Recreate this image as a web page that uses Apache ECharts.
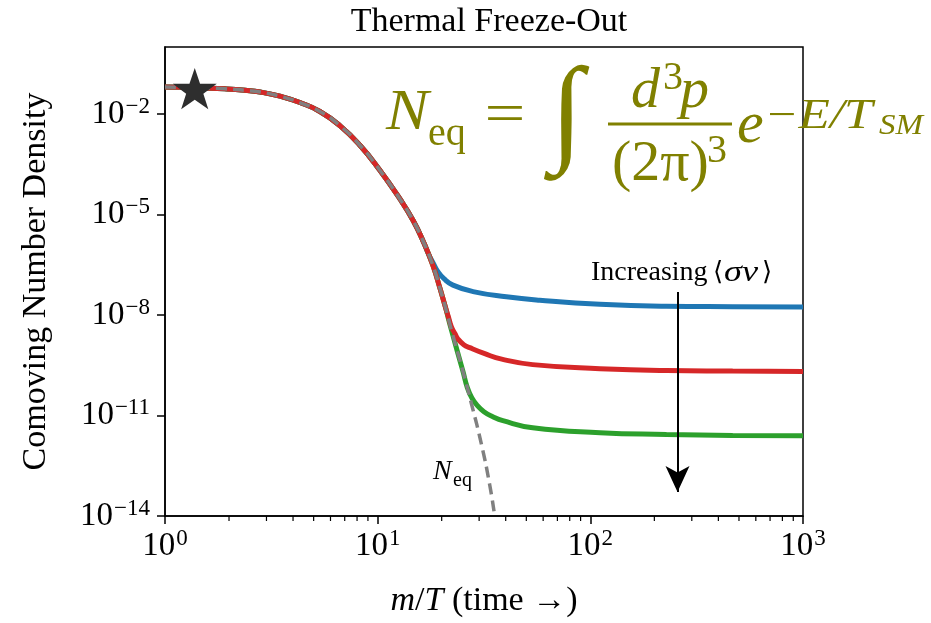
<!DOCTYPE html>
<html>
<head>
<meta charset="utf-8">
<script src="https://cdn.jsdelivr.net/npm/echarts@6/dist/echarts.min.js"></script>
<style>
  html, body { margin: 0; padding: 0; background: #fff; }
  #chart { width: 931px; height: 623px; }
</style>
</head>
<body>
<div id="chart"></div>
<script>
// values (m/T on x, comoving number density on y)
const eqX = [1.00, 1.24, 1.54, 1.91, 2.38, 2.80, 3.47, 4.31, 5.35, 6.64, 8.25, 10.2, 12.7, 14.7, 16.4, 18.2, 19.6, 20.7, 22.2, 25.2, 27.6, 30.8, 33.7, 35.5]
const eqY = [6.4e-2, 6.26e-2, 6.0e-2, 5.65e-2, 5.1e-2, 4.54e-2, 3.4e-2, 2.2e-2, 1.19e-2, 4.5e-3, 1.17e-3, 2.17e-4, 2.96e-5, 6.5e-6, 1.54e-6, 2.96e-7, 6.5e-8, 1.96e-8, 3.64e-9, 2.03e-10, 2.25e-11, 1.34e-12, 8.0e-14, 1.0e-14]

const blueX = [1.00, 1.24, 1.54, 1.91, 2.38, 2.80, 3.47, 4.31, 5.35, 6.64, 8.25, 10.2, 12.7, 14.7, 16.4, 17.35, 18.2, 19.2, 20.5, 22.6, 28.1, 40.3, 57.8, 111, 228, 467, 1000]
const blueY = [6.4e-2, 6.26e-2, 6.0e-2, 5.65e-2, 5.1e-2, 4.54e-2, 3.4e-2, 2.2e-2, 1.19e-2, 4.5e-3, 1.17e-3, 2.17e-4, 2.96e-5, 6.5e-6, 1.54e-6, 6.5e-7, 3.64e-7, 1.96e-7, 1.21e-7, 7.8e-8, 5.0e-8, 3.5e-8, 2.77e-8, 2.1e-8, 1.83e-8, 1.77e-8, 1.73e-8]

const redX = [1.00, 1.24, 1.54, 1.91, 2.38, 2.80, 3.47, 4.31, 5.35, 6.64, 8.25, 10.2, 12.7, 14.7, 16.4, 18.2, 19.6, 20.7, 21.5, 22.2, 23.1, 23.8, 25.4, 27.1, 31.9, 38.3, 53.6, 111, 228, 467, 1000]
const redY = [6.4e-2, 6.26e-2, 6.0e-2, 5.65e-2, 5.1e-2, 4.54e-2, 3.4e-2, 2.2e-2, 1.19e-2, 4.5e-3, 1.17e-3, 2.17e-4, 2.96e-5, 6.5e-6, 1.54e-6, 2.96e-7, 6.5e-8, 1.96e-8, 8.9e-9, 4.48e-9, 2.77e-9, 1.96e-9, 1.3e-9, 1.06e-9, 7.0e-10, 4.8e-10, 3.3e-10, 2.5e-10, 2.2e-10, 2.13e-10, 2.07e-10]

const greenX = [1.00, 1.24, 1.54, 1.91, 2.38, 2.80, 3.47, 4.31, 5.35, 6.64, 8.25, 10.2, 12.7, 14.7, 16.4, 18.2, 19.6, 20.7, 22.2, 25.2, 26.4, 27.7, 29.3, 31.6, 34.8, 38.8, 53.6, 111, 228, 467, 1000]
const greenY = [6.4e-2, 6.26e-2, 6.0e-2, 5.65e-2, 5.1e-2, 4.54e-2, 3.4e-2, 2.2e-2, 1.19e-2, 4.5e-3, 1.17e-3, 2.17e-4, 2.96e-5, 6.5e-6, 1.54e-6, 2.96e-7, 6.5e-8, 1.96e-8, 3.64e-9, 2.03e-10, 6.8e-11, 3.4e-11, 2.03e-11, 1.3e-11, 9.2e-12, 7.0e-12, 4.3e-12, 3.07e-12, 2.73e-12, 2.55e-12, 2.49e-12]

const starX = [1.38]
const starY = [5.7e-2]

// "Increasing <sigma v>" arrow, start and tip
const arrowX = [257, 257]
const arrowY = [4.9e-8, 5.2e-14]

const xMin = 1
const xMax = 1000
const yMin = 1e-14
const yMax = 1
const yTickExps = [-14, -11, -8, -5, -2]
const xMinorTicks = [2, 3, 4, 5, 6, 7, 8, 9, 20, 30, 40, 50, 60, 70, 80, 90, 200, 300, 400, 500, 600, 700, 800, 900]

const SERIF = "'Liberation Serif', 'DejaVu Serif', serif"
const OLIVE = '#808000'

function zip(xs, ys) {
  return xs.map(function (x, i) {
    return [x, ys[i]]
  })
}

function powLabel(v) {
  const e = Math.round(Math.log10(v))
  return '{b|10}{s|' + String(e).replace('-', '\u2212') + '}'
}

const tickRich = {
  b: { fontFamily: SERIF, fontSize: 33, color: '#000' },
  s: { fontFamily: SERIF, fontSize: 23, color: '#000', padding: [0, 0, 15, 1] },
}

function curve(xs, ys, color, z) {
  return {
    type: 'line',
    data: zip(xs, ys),
    smooth: 0.5,
    showSymbol: false,
    lineStyle: { color: color, width: 5 },
    silent: true,
    z: z,
  }
}

function txt(x, y, text, font, extra) {
  const el = {
    type: 'text',
    x: x,
    y: y,
    style: { text: text, font: font, fill: OLIVE, verticalAlign: 'middle' },
  }
  return Object.assign(el, extra || {})
}

const chart = echarts.init(document.getElementById('chart'))

const option = {
  animation: false,
  backgroundColor: '#fff',
  title: {
    text: 'Thermal Freeze-Out',
    left: 484,
    textAlign: 'center',
    top: 0,
    textStyle: { fontFamily: SERIF, fontWeight: 'normal', fontSize: 34, color: '#000' },
  },
  grid: {
    left: 165,
    right: 128,
    top: 47,
    bottom: 106,
    show: true,
    borderColor: '#000',
    borderWidth: 1.5,
  },
  xAxis: {
    type: 'log',
    logBase: 10,
    min: xMin,
    max: xMax,
    name: '{i|m}/{i|T} (time \u2192)',
    nameLocation: 'middle',
    nameGap: 68,
    nameTextStyle: {
      fontFamily: SERIF,
      fontSize: 34,
      color: '#000',
      rich: {
        i: { fontFamily: SERIF, fontSize: 34, fontStyle: 'italic', color: '#000' },
      },
    },
    axisLine: { lineStyle: { color: '#000', width: 1.5 } },
    axisTick: { inside: false, length: 8, lineStyle: { color: '#000', width: 1.5 } },
    splitLine: { show: false },
    axisLabel: {
      margin: 11,
      formatter: powLabel,
      rich: tickRich,
    },
  },
  yAxis: {
    type: 'log',
    logBase: 10,
    min: yMin,
    max: yMax,
    interval: 3,
    name: 'Comoving Number Density',
    nameLocation: 'middle',
    nameGap: 112,
    nameTextStyle: { fontFamily: SERIF, fontSize: 34, color: '#000' },
    axisLine: { lineStyle: { color: '#000', width: 1.5 } },
    axisTick: { inside: false, length: 8, lineStyle: { color: '#000', width: 1.5 } },
    splitLine: { show: false },
    axisLabel: {
      margin: 15,
      showMaxLabel: false,
      formatter: function (v) {
        const e = Math.round(Math.log10(v))
        return yTickExps.indexOf(e) >= 0 ? powLabel(v) : ''
      },
      rich: tickRich,
    },
  },
  series: [
    curve(blueX, blueY, '#1f77b4', 2),
    curve(greenX, greenY, '#2ca02c', 2),
    curve(redX, redY, '#d62728', 3),
    {
      type: 'line',
      data: zip(eqX, eqY),
      smooth: 0.5,
      showSymbol: false,
      lineStyle: { color: '#808080', width: 3.5, type: [11, 6] },
      silent: true,
      z: 4,
      markLine: {
        silent: true,
        symbol: ['none', 'arrow'],
        symbolSize: [18, 26],
        label: { show: false },
        lineStyle: { color: '#000', width: 2, type: 'solid' },
        data: [[{ coord: [arrowX[0], arrowY[0]] }, { coord: [arrowX[1], arrowY[1]] }]],
      },
    },
    {
      type: 'scatter',
      data: zip(starX, starY),
      symbol: 'path://M50,0 L61.8,35.1 L98.9,35.1 L69.1,57.1 L80.2,91.9 L50,70.5 L19.8,91.9 L30.9,57.1 L1.1,35.1 L38.2,35.1 Z',
      symbolKeepAspect: true,
      symbolSize: 44,
      itemStyle: { color: '#2e2e2e', opacity: 1 },
      silent: true,
      z: 5,
    },
    {
      // minor ticks of the log x axis
      type: 'custom',
      data: xMinorTicks.map(function (v) { return [v, yMin] }),
      clip: false,
      silent: true,
      renderItem: function (params, api) {
        const p = api.coord([api.value(0), api.value(1)])
        return {
          type: 'line',
          shape: { x1: p[0], y1: p[1], x2: p[0], y2: p[1] + 5 },
          style: { stroke: '#000', lineWidth: 1.2 },
        }
      },
    },
  ],
  graphic: [
    // N_eq formula
    txt(386, 114, 'N', 'italic 58px ' + SERIF, { scaleX: 1.1 }),
    txt(428, 134, 'eq', '40px ' + SERIF),
    txt(505, 117, '=', '58px ' + SERIF, { scaleX: 1.25, style: { text: '=', font: '58px ' + SERIF, fill: OLIVE, align: 'center', verticalAlign: 'middle' } }),
    txt(567, 118, '\u222B', '100px ' + SERIF, { scaleX: 1.2, scaleY: 1.18, style: { text: '\u222B', font: '100px ' + SERIF, fill: OLIVE, align: 'center', verticalAlign: 'middle' } }),
    txt(631, 92, 'd', 'italic 58px ' + SERIF),
    txt(663, 78, '3', '40px ' + SERIF),
    txt(680, 92, 'p', 'italic 58px ' + SERIF),
    { type: 'line', shape: { x1: 608, y1: 124, x2: 732, y2: 124 }, style: { stroke: OLIVE, lineWidth: 3 } },
    txt(612, 165, '(2\u03C0)', '58px ' + SERIF),
    txt(707, 151, '3', '40px ' + SERIF),
    txt(737, 126, 'e', 'italic 60px ' + SERIF),
    txt(764, 117, '\u2212E/T', 'italic 42px ' + SERIF, { scaleX: 1.22 }),
    txt(879, 126, 'SM', 'italic 30px ' + SERIF, { scaleX: 1.1 }),
    // label of the dashed equilibrium curve
    { type: 'text', x: 433, y: 472, style: { text: 'N', font: 'italic 28px ' + SERIF, fill: '#000', verticalAlign: 'middle' } },
    { type: 'text', x: 453, y: 481, style: { text: 'eq', font: '20px ' + SERIF, fill: '#000', verticalAlign: 'middle' } },
    // arrow caption
    { type: 'text', x: 591, y: 273, style: { text: 'Increasing', font: '28px ' + SERIF, fill: '#000', verticalAlign: 'middle' } },
    { type: 'text', x: 713, y: 273, style: { text: '\u27E8', font: '26px ' + SERIF, fill: '#000', verticalAlign: 'middle' } },
    { type: 'text', x: 724, y: 273, scaleX: 1.25, style: { text: '\u03C3v', font: 'italic 29px ' + SERIF, fill: '#000', verticalAlign: 'middle' } },
    { type: 'text', x: 762, y: 273, style: { text: '\u27E9', font: '26px ' + SERIF, fill: '#000', verticalAlign: 'middle' } },
  ],
}

chart.setOption(option)
</script>
</body>
</html>
